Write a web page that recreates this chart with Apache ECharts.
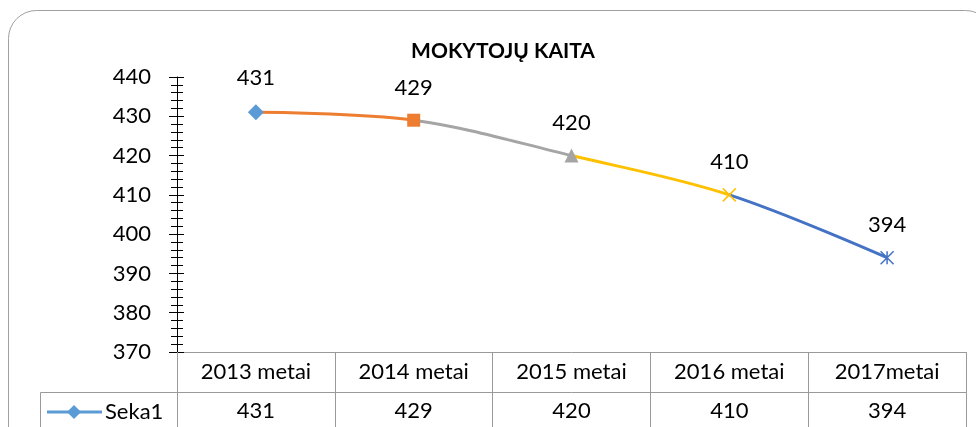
<!DOCTYPE html>
<html>
<head>
<meta charset="utf-8">
<script src="https://cdn.jsdelivr.net/npm/echarts@6/dist/echarts.min.js"></script>
<style>
  html, body { margin: 0; padding: 0; background: #fff; }
  #chart { width: 976px; height: 427px; }
</style>
</head>
<body>
<div id="chart"></div>
<script>
// duomenys
const categories = ['2013 metai', '2014 metai', '2015 metai', '2016 metai', '2017metai'];
const values = [431, 429, 420, 410, 394];
const seriesName = 'Seka1';
const yMin = 370, yMax = 440, yStep = 10;

// Excel "vary colors by point"
const pointColors = ['#5B9BD5', '#ED7D31', '#A5A5A5', '#FFC000', '#4472C4'];
const markerShapes = [
  'diamond',
  'rect',
  'triangle',
  'path://M0 0L10 10M10 0L0 10',
  'path://M0 0L10 10M10 0L0 10M5 0L5 10'
];
const markerSizes = [16, 13, 14, 13, 13];
const strokeOnly = [false, false, false, true, true];

const FONT = 'Lato';
const tableLine = '#9a9a9a';

let myChart = echarts.init(document.getElementById('chart'));

// segment i-1 -> i takes colour of point i
let pieces = [];
for (let i = 1; i < values.length; i++) {
  let p = { lte: i, color: pointColors[i] };
  if (i > 1) p.gt = i - 1;
  pieces.push(p);
}

let markerData = values.map((v, i) => ({
  value: v,
  symbol: markerShapes[i],
  symbolSize: markerSizes[i],
  itemStyle: strokeOnly[i]
    ? { color: 'rgba(0,0,0,0)', borderColor: pointColors[i], borderWidth: 1.5, opacity: 1 }
    : { color: pointColors[i], borderWidth: 0, opacity: 1 }
}));

let option = {
  backgroundColor: '#fff',
  animation: false,
  textStyle: { fontFamily: FONT },
  title: {
    text: 'MOKYTOJŲ KAITA',
    left: 498,
    textAlign: 'center',
    top: 36,
    textStyle: { fontFamily: FONT, fontSize: 21, fontWeight: 'bold', color: '#000' }
  },
  grid: { left: 177, right: 10, top: 77, bottom: 75, containLabel: false },
  xAxis: [
    {
      type: 'category',
      data: categories,
      position: 'bottom',
      axisLine: { lineStyle: { color: tableLine, width: 1 } },
      axisTick: { show: true, alignWithLabel: false, interval: 0, length: 40, lineStyle: { color: tableLine } },
      axisLabel: { interval: 0, margin: 9, fontSize: 22, color: '#000', fontFamily: FONT },
      splitLine: { show: false }
    },
    {
      type: 'category',
      data: categories,
      position: 'bottom',
      offset: 40,
      axisLine: { lineStyle: { color: tableLine, width: 1 } },
      axisTick: { show: true, alignWithLabel: false, interval: 0, length: 40, lineStyle: { color: tableLine } },
      axisLabel: {
        interval: 0, margin: 8, fontSize: 22, color: '#000', fontFamily: FONT,
        formatter: (v, i) => String(values[i])
      },
      splitLine: { show: false }
    }
  ],
  yAxis: [
    {
      type: 'value',
      min: yMin, max: yMax, interval: yStep,
      axisLine: { show: true, lineStyle: { color: '#000', width: 1 } },
      axisTick: { show: true, length: 8, lineStyle: { color: '#000' } },
      minorTick: { show: true, splitNumber: 5, length: 6, lineStyle: { color: '#000' } },
      axisLabel: { margin: 26, fontSize: 22, color: '#000', fontFamily: FONT },
      splitLine: { show: false }
    },
    {
      type: 'value',
      min: yMin, max: yMax, interval: yStep,
      position: 'left',
      axisLine: { show: false },
      axisTick: { show: true, inside: true, length: 7, lineStyle: { color: '#000' } },
      minorTick: { show: true, splitNumber: 5, length: 6, lineStyle: { color: '#000' } },
      axisLabel: { show: false },
      splitLine: { show: false }
    }
  ],
  visualMap: {
    type: 'piecewise',
    show: false,
    seriesIndex: 0,
    dimension: 0,
    pieces: pieces
  },
  series: [
    {
      name: seriesName,
      type: 'line',
      data: values,
      smooth: 0.35,
      showSymbol: false,
      lineStyle: { width: 3 },
      z: 2
    },
    {
      name: seriesName,
      type: 'scatter',
      data: markerData,
      z: 3,
      itemStyle: { opacity: 1 },
      label: {
        show: true,
        position: 'top',
        distance: 15,
        fontSize: 22,
        color: '#000',
        opacity: 1,
        fontFamily: FONT
      }
    }
  ],
  graphic: [
    {
      type: 'rect',
      shape: { x: 8.5, y: 10.5, width: 985, height: 460, r: 28 },
      style: { fill: 'none', stroke: '#a0a0a0', lineWidth: 1 },
      silent: true
    },
    // legend cell of the data table
    {
      type: 'polyline',
      shape: { points: [[40.5, 440], [40.5, 392.5], [177, 392.5]] },
      style: { fill: 'none', stroke: tableLine, lineWidth: 1 },
      silent: true
    },
    {
      type: 'line',
      shape: { x1: 47, y1: 412, x2: 102, y2: 412 },
      style: { stroke: pointColors[0], lineWidth: 3 },
      silent: true
    },
    {
      type: 'polygon',
      shape: { points: [[74, 405], [81, 412], [74, 419], [67, 412]] },
      style: { fill: pointColors[0] },
      silent: true
    },
    {
      type: 'text',
      x: 105, y: 412,
      style: { text: seriesName, fontSize: 22, fontFamily: FONT, fill: '#000', textVerticalAlign: 'middle' },
      silent: true
    }
  ]
};

myChart.setOption(option, true);
</script>
</body>
</html>
